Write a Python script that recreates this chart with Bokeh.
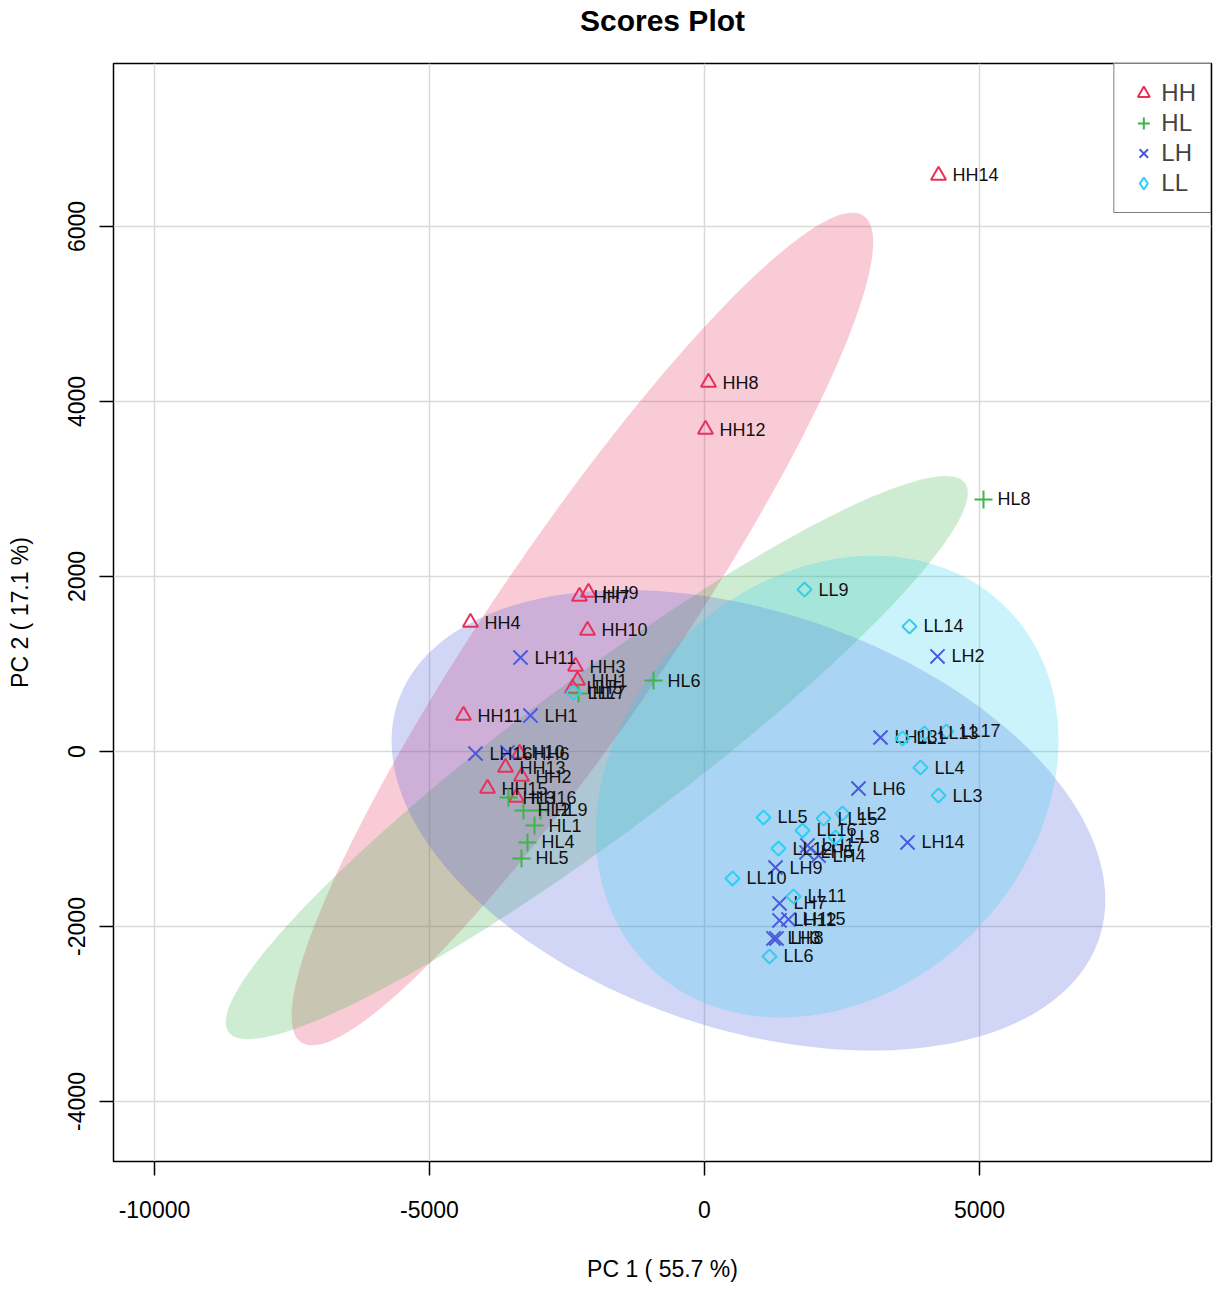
import numpy as np
from bokeh.plotting import figure
from bokeh.models import (Range1d, FixedTicker, Legend, LegendItem, ColumnDataSource,
                          PrintfTickFormatter, Title)
from bokeh.embed import file_html
from bokeh.resources import INLINE
from bokeh.core.properties import value

groups = ["HH", "HL", "LH", "LL"]

hh_names = ["HH1", "HH2", "HH3", "HH4", "HH5", "HH6", "HH7", "HH8", "HH9", "HH10",
            "HH11", "HH12", "HH13", "HH14", "HH15", "HH16"]
hh_pc1 = [-2309, -3327, -2345, -4255, -2400, -3364, -2273, 73, -2109, -2127,
          -4382, 18, -3618, 4255, -3945, -3418]
hh_pc2 = [811, -286, 971, 1474, 720, -23, 1771, 4217, 1817, 1383,
          411, 3680, -183, 6583, -423, -526]

hl_names = ["HL1", "HL2", "HL3", "HL4", "HL5", "HL6", "HL7", "HL8", "HL9"]
hl_pc1 = [-3091, -3291, -3564, -3218, -3327, -927, -2291, 5073, -2982]
hl_pc2 = [-846, -674, -526, -1040, -1223, 811, 663, 2880, -674]

lh_names = ["LH1", "LH2", "LH3", "LH4", "LH5", "LH6", "LH7", "LH8", "LH9", "LH10",
            "LH11", "LH12", "LH13", "LH14", "LH15", "LH16", "LH17"]
lh_pc1 = [-3164, 4236, 1255, 2073, 1855, 2800, 1364, 1309, 1291, -3582,
          -3345, 1364, 3200, 3691, 1527, -4164, 1873]
lh_pc2 = [411, 1086, -2137, -1189, -1154, -423, -1737, -2137, -1326, -11,
          1074, -1931, 160, -1040, -1920, -23, -1074]

ll_names = ["LL1", "LL2", "LL3", "LL4", "LL5", "LL6", "LL7", "LL8", "LL9", "LL10",
            "LL11", "LL12", "LL13", "LL14", "LL15", "LL16", "LL17"]
ll_pc1 = [3600, 2509, 4255, 3927, 1073, 1182, -2382, 2382, 1818, 509,
          1618, 1345, 4000, 3727, 2164, 1782, 4400]
ll_pc2 = [149, -709, -503, -183, -754, -2343, 674, -983, 1851, -1451,
          -1657, -1109, 206, 1429, -766, -903, 229]

x_ticks = [-10000, -5000, 0, 5000]
y_ticks = [-4000, -2000, 0, 2000, 4000, 6000]

colors = ["#E8305C", "#3DB54A", "#4A5ADB", "#2ECFF0"]
markers = ["triangle", "cross", "x", "square"]
legend_markers = ["triangle", "cross", "x", "diamond"]
sizes = [15, 18, 20, 10]
angles = [0, 0, 0, np.pi / 4]

data = [(hh_names, hh_pc1, hh_pc2), (hl_names, hl_pc1, hl_pc2),
        (lh_names, lh_pc1, lh_pc2), (ll_names, ll_pc1, ll_pc2)]

p = figure(width=1219, height=1289, output_backend="svg", toolbar_location=None, title=None,
           x_range=Range1d(-10745, 9218), y_range=Range1d(-4686, 7863),
           min_border_left=113, min_border_right=8, min_border_top=63, min_border_bottom=128)

# spacer between frame and title, then the title itself
p.add_layout(Title(text=" ", text_font_size="8px", standoff=16), "above")
p.add_layout(Title(text="Scores Plot", align="center", standoff=0, text_font="Liberation Sans",
                   text_font_size="30px", text_font_style="bold", text_color="black"), "above")

p.outline_line_color = "black"
p.outline_line_width = 1.5
p.background_fill_color = "white"
p.border_fill_color = "white"

for ax in (p.xaxis[0], p.yaxis[0]):
    ax.axis_line_color = None
    ax.major_tick_in = 0
    ax.major_tick_out = 14
    ax.major_tick_line_color = "black"
    ax.major_tick_line_width = 1.5
    ax.minor_tick_line_color = None
    ax.major_label_text_font = "Liberation Sans"
    ax.major_label_text_font_size = "23px"
    ax.major_label_text_color = "black"
    ax.axis_label_text_font = "Liberation Sans"
    ax.axis_label_text_font_size = "23px"
    ax.axis_label_text_font_style = "normal"
    ax.axis_label_text_color = "black"
    ax.formatter = PrintfTickFormatter(format="%d")

p.xaxis[0].ticker = FixedTicker(ticks=x_ticks)
p.yaxis[0].ticker = FixedTicker(ticks=y_ticks)
p.xaxis[0].major_label_standoff = 25
p.yaxis[0].major_label_standoff = 14
p.yaxis[0].major_label_orientation = "vertical"
p.xaxis[0].axis_label = "PC 1 ( 55.7 %)"
p.yaxis[0].axis_label = "PC 2 ( 17.1 %)"
p.xaxis[0].axis_label_standoff = 35
p.yaxis[0].axis_label_standoff = 33

p.xgrid.ticker = FixedTicker(ticks=x_ticks)
p.ygrid.ticker = FixedTicker(ticks=y_ticks)
p.xgrid.grid_line_color = "#d9d9d9"
p.ygrid.grid_line_color = "#d9d9d9"
p.xgrid.grid_line_width = 1.5
p.ygrid.grid_line_width = 1.5

# 95% confidence ellipses computed from each group's scores
t = np.sqrt(5.991)
theta = np.linspace(0, 2 * np.pi, 200)
for (names, xs, ys), col in zip(data, colors):
    pts = np.column_stack([xs, ys]).astype(float)
    mu = pts.mean(axis=0)
    cov = np.cov(pts.T)
    vals, vecs = np.linalg.eigh(cov)
    circ = np.vstack([np.cos(theta), np.sin(theta)])
    ell = (vecs @ np.diag(np.sqrt(vals)) @ circ) * t
    p.patch(mu[0] + ell[0], mu[1] + ell[1], fill_color=col, fill_alpha=0.25, line_color=None)

items = []
for (names, xs, ys), col, mk, lmk, sz, ang, g in zip(data, colors, markers, legend_markers,
                                                     sizes, angles, groups):
    src = ColumnDataSource(dict(x=xs, y=ys, name=names))
    p.scatter("x", "y", source=src, marker=mk, size=sz, angle=ang,
              fill_color=None, line_color=col, line_width=2)
    p.text("x", "y", text="name", source=src, x_offset=14, text_align="left",
           text_baseline="middle", text_font=value("Liberation Sans"),
           text_font_size="18px", text_color="#111111")
    # legend-only renderer: zero-size marks (legend sets its own glyph size)
    leg_r = p.scatter("x", "y", source=src, marker=lmk, size=0,
                      fill_color=None, line_color=col, line_width=2)
    items.append(LegendItem(label=g, renderers=[leg_r]))

legend = Legend(items=items, location="top_right")
legend.border_line_color = "black"
legend.border_line_width = 1.5
legend.margin = 0
legend.padding = 14
legend.spacing = 0
legend.label_text_font = "Liberation Sans"
legend.label_text_font_size = "24px"
legend.label_height = 30
legend.glyph_height = 30
legend.glyph_width = 30
legend.label_standoff = 3
legend.background_fill_color = "white"
legend.background_fill_alpha = 1
p.add_layout(legend)

open("out.html", "w").write(file_html(p, INLINE))
